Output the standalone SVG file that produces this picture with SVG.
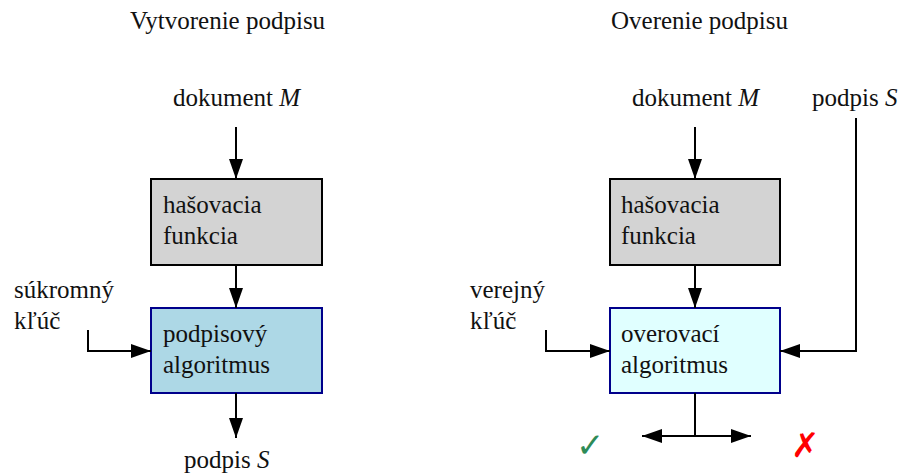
<svg xmlns="http://www.w3.org/2000/svg" width="907" height="476" viewBox="0 0 907 476">
<defs>
<marker id="ah" markerWidth="20" markerHeight="14" refX="20" refY="7" orient="auto" markerUnits="userSpaceOnUse">
<path d="M0,0 L20,7 L0,14 Z" fill="#000"/>
</marker>
<style>
text{font-family:"Liberation Serif","DejaVu Serif",serif;font-size:25px;fill:#111}
.box{stroke-width:2}
.gray{fill:#d3d3d3;stroke:#000}
.blue{fill:#add8e6;stroke:#00008b}
.cyan{fill:#e0ffff;stroke:#00008b}
.c{fill:none;stroke:#000;stroke-width:2;marker-end:url(#ah)}
.l{fill:none;stroke:#000;stroke-width:2}
</style>
</defs>
<text x="130" y="29">Vytvorenie podpisu</text>
<text x="611" y="29">Overenie podpisu</text>
<g id="docL"><text x="173" y="106">dokument <tspan font-style="italic">M</tspan></text></g>
<g id="docR"><text x="632" y="106">dokument <tspan font-style="italic">M</tspan></text></g>
<g id="sigR"><text x="812" y="106">podpis <tspan font-style="italic">S</tspan></text></g>
<g id="privkey"><text x="14" y="298">súkromný</text><text x="14" y="329">kľúč</text></g>
<g id="pubkey"><text x="470" y="298">verejný</text><text x="470" y="329">kľúč</text></g>
<g id="hashL"><rect class="box gray" x="151" y="179" width="171" height="86"/><text x="163" y="213">hašovacia</text><text x="163" y="244">funkcia</text></g>
<g id="signAlg"><rect class="box blue" x="151" y="308" width="171" height="85"/><text x="163" y="342">podpisový</text><text x="163" y="373">algoritmus</text></g>
<g id="hashR"><rect class="box gray" x="610" y="179" width="170" height="86"/><text x="621" y="213">hašovacia</text><text x="621" y="244">funkcia</text></g>
<g id="verAlg"><rect class="box cyan" x="610" y="308" width="170" height="85"/><text x="621" y="342">overovací</text><text x="621" y="373">algoritmus</text></g>
<g id="sigOut"><text x="184" y="468">podpis <tspan font-style="italic">S</tspan></text></g>
<g id="ok"><text x="576" y="457" style="fill:#2e8b57;font-family:'DejaVu Sans',sans-serif;font-size:34px">✓</text></g>
<g id="bad"><text x="791" y="457" style="fill:#ff0000;font-family:'DejaVu Sans',sans-serif;font-size:34px;font-style:italic">✗</text></g>
<g id="connectors">
<path class="c" d="M236,127 V179"/>
<path class="c" d="M236,265 V308"/>
<path class="c" d="M236,393 V438"/>
<path class="c" d="M88,330 V351 H151"/>
<path class="c" d="M695,127 V179"/>
<path class="c" d="M695,265 V308"/>
<path class="c" d="M546,330 V351 H610"/>
<path class="c" d="M856,118 V351 H780"/>
<path class="l" d="M695,393 V436"/>
<path class="c" d="M695,436 H642"/>
<path class="c" d="M695,436 H751"/>
</g>
</svg>
